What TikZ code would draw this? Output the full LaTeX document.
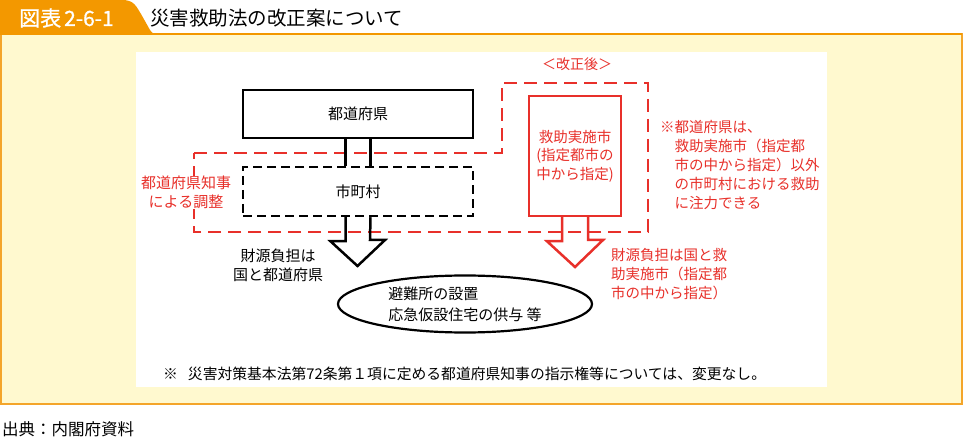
\documentclass[tikz,border=0pt]{standalone}
\usepackage{fontspec}
\setmainfont{Noto Sans CJK JP}
\newfontfamily\hdrfont[FakeBold=1]{Noto Sans CJK JP}
\usetikzlibrary{shapes.geometric}
\definecolor{tabor}{HTML}{F39800}
\definecolor{panelbd}{HTML}{F4A52A}
\definecolor{panelbg}{HTML}{FFF9CF}
\definecolor{rd}{HTML}{E8302A}
\newcommand{\fs}[1]{\fontsize{#1}{#1}\selectfont}
\begin{document}
\begin{tikzpicture}[x=1pt,y=-1pt,
  txt/.style={inner sep=0pt,font=\fs{15}},
  blkbox/.style={draw=black,line width=2.5pt,minimum width=230pt,minimum height=48pt,inner sep=0pt,font=\fs{15}},
  dshbox/.style={draw=black,line width=2.5pt,dash pattern=on 9pt off 5pt,minimum width=230pt,minimum height=49pt,inner sep=0pt,font=\fs{15}},
  redbox/.style={draw=rd,text=rd,line width=2.5pt,minimum width=92pt,minimum height=120pt,inner sep=0pt,align=center,font=\fontsize{14.5}{18.5}\selectfont},
  reddash/.style={draw=rd,line width=2.5pt,dash pattern=on 13pt off 7pt},
  blkarrow/.style={draw=black,line width=2.5pt,line join=miter},
  redarrow/.style={draw=rd,line width=2.5pt,line join=miter},
  redtxt/.style={inner sep=0pt,text=rd,align=left,font=\fontsize{14.5}{19}\selectfont}
]
\useasboundingbox (0,0) rectangle (963,438);
\fill[white] (0,0) rectangle (963,438);
% panel
\draw[panelbd,fill=panelbg,line width=2pt] (1,34) rectangle (962,404);
\fill[white] (136,52) rectangle (827,387);
% tab
\fill[tabor] (0,0) -- (122,0) .. controls (134,0) and (136,6) .. (141,14) -- (150,30) .. controls (152,33) .. (156,34) -- (0,34) -- cycle;
\draw[tabor,line width=2pt] (0,34) -- (962,34);
\node[anchor=west,inner sep=0pt,text=white,font=\hdrfont\fs{21}] (hdr) at (19,18) {図表\hspace{3pt}2-6-1};
\node[anchor=west,inner sep=0pt,font=\fs{19.5}] (title) at (150,18) {災害救助法の改正案について};

% red dashed region
\draw[reddash] (194,153) -- (502,153) -- (502,83) -- (648,83) -- (648,232) -- (194,232) -- cycle;
\node[redtxt,align=center,fill=white,inner sep=0.5pt,font=\fontsize{15}{19}\selectfont] (coord) at (186,192.5) {都道府県知事\\による調整};

% boxes
\node[blkbox] (pref) at (358,114) {都道府県};
\node[dshbox] (muni) at (358,191.5) {市町村};
\node[redbox] (city) at (575,156) {救助実施市\\(指定都市の\\中から指定)};

% connectors
\draw[blkarrow] ([xshift=-12.5pt]pref.south) -- ([xshift=-12.5pt]muni.north);
\draw[blkarrow] ([xshift=12.5pt]pref.south) -- ([xshift=12.5pt]muni.north);
\coordinate (btip) at (357.5,266);
\draw[blkarrow] ([xshift=-12.5pt]muni.south) -- ++(0,24) -- ++(-15,0) -- (btip) -- ++(27.5,-26) -- ++(-15,0) -- ([xshift=12.5pt]muni.south);
\coordinate (rtip) at (575,267);
\draw[redarrow] ([xshift=-13pt]city.south) -- ++(0,24) -- ++(-15,0) -- (rtip) -- ++(28,-27) -- ++(-15,0) -- ([xshift=13pt]city.south);

% ellipse
\node[ellipse,draw=black,line width=2.2pt,minimum width=254pt,minimum height=57pt,inner sep=0pt] (ell) at (465,304) {};
\node[txt,align=left,font=\fontsize{15}{21}\selectfont] (elltext) at (ell.center) {避難所の設置\\応急仮設住宅の供与 等};

% labels
\node[inner sep=0pt,text=rd,font=\fs{14}] (kaisei) at (577,64) {＜改正後＞};
\node[redtxt,anchor=north west] (note) at (660,120) {※都道府県は、\\\hspace*{14.5pt}救助実施市（指定都\\\hspace*{14.5pt}市の中から指定）以外\\\hspace*{14.5pt}の市町村における救助\\\hspace*{14.5pt}に注力できる};
\node[txt,align=center,font=\fontsize{15}{19}\selectfont] (zaigen1) at (278,265.5) {財源負担は\\国と都道府県};
\node[redtxt,anchor=north west] (zaigen2) at (611,248) {財源負担は国と救\\助実施市（指定都\\市の中から指定）};

\node[txt,anchor=west,font=\fs{14.8}] (foot) at (163,374) {※\hspace{10pt}災害対策基本法第72条第１項に定める都道府県知事の指示権等については、変更なし。};
\node[txt,anchor=west,font=\fs{16.5}] (src) at (2,429) {出典：内閣府資料};
\end{tikzpicture}
\end{document}
